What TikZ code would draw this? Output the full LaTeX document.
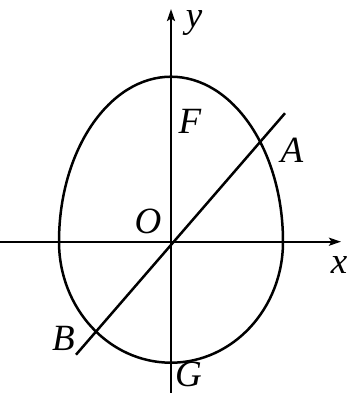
\documentclass[tikz,border=0pt]{standalone}
\usepackage{fontspec}
\setmainfont{Liberation Serif}[ItalicFont={Liberation Serif Italic}]
\newfontfamily\lblfont{Liberation Serif Italic}
\usetikzlibrary{arrows.meta,calc}
\begin{document}
\begin{tikzpicture}[x=1pt,y=-1pt,
  curve/.style={line width=2.5pt},
  axis/.style={line width=2.3pt,-{Stealth[length=12pt,width=8pt,inset=2.5pt]}},
  lbl/.style={inner sep=0pt,anchor=base,font=\lblfont\fontsize{37}{37}\selectfont}]
\useasboundingbox (0,0) rectangle (348,393);
% origin
\coordinate (O) at (171,241.7);
% axes
\coordinate (xs) at (0,241.7);
\coordinate (xe) at (341,241.7);
\coordinate (ys) at (171,393);
\coordinate (ye) at (171,9);
\draw[axis] (xs) -- (xe);
\draw[axis] (ys) -- (ye);
% egg: upper half-ellipse, lower half-ellipse
\draw[curve] ([xshift=112pt]O) arc[start angle=0,end angle=180,x radius=112pt,y radius=165pt]
  arc[start angle=180,end angle=360,x radius=112pt,y radius=121pt] -- cycle;
% line through O
\coordinate (P) at ($(O)+(114,-128.5)$);
\coordinate (Q) at ($(O)+(-95,113)$);
\draw[curve] (Q) -- (P);
% labels
\node[lbl] (ly) at (194,28) {y};
\node[lbl] (lF) at (190,133) {F};
\node[lbl] (lA) at (292,162) {A};
\node[lbl] (lO) at (148,233) {O};
\node[lbl] (lx) at (339,273) {x};
\node[lbl] (lB) at (63.5,350) {B};
\node[lbl] (lG) at (188.5,386) {G};
\end{tikzpicture}
\end{document}
